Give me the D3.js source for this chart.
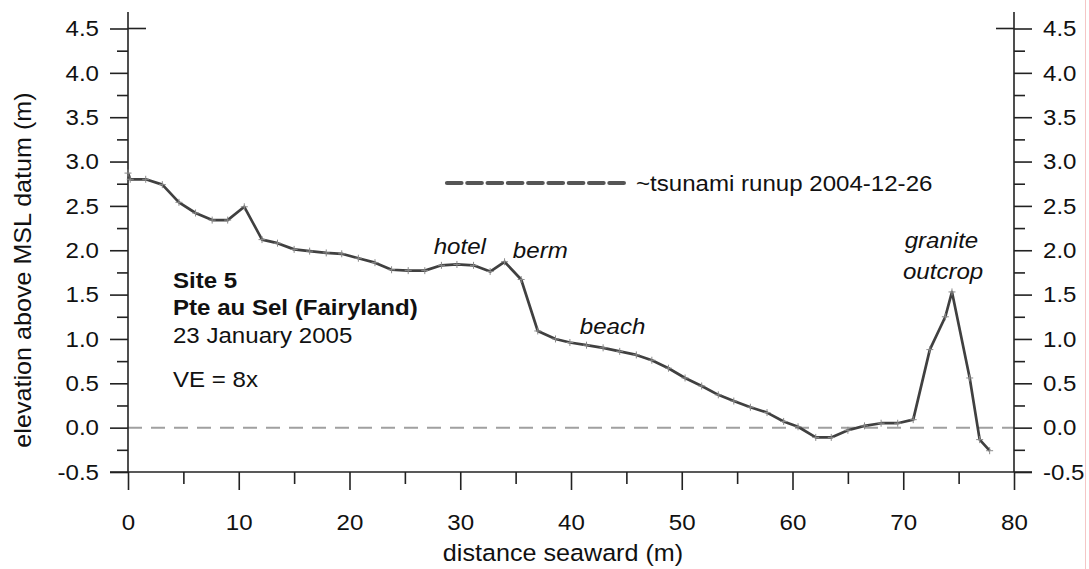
<!DOCTYPE html>
<html>
<head>
<meta charset="utf-8">
<script src="https://cdn.jsdelivr.net/npm/d3@7"></script>
<style>
  html, body { margin: 0; padding: 0; background: #fff; }
  svg { display: block; font-family: "Liberation Sans", Arial, sans-serif; }
</style>
</head>
<body>
<svg id="chart" width="1089" height="569"></svg>
<script>
// Beach profile, Site 5 — Pte au Sel (Fairyland), surveyed 23 January 2005
const distance = [0, 0.2, 1.6, 3.1, 4.6, 6.1, 7.6, 9.0, 10.5, 12.1, 13.5, 15.0, 16.4,
  17.9, 19.3, 20.8, 22.3, 23.8, 25.3, 26.8, 28.3, 29.7, 31.2, 32.7, 34.0, 35.5, 37.0,
  38.6, 39.9, 41.4, 42.9, 44.4, 45.9, 47.3, 48.8, 50.3, 51.8, 53.3, 54.7, 56.2, 57.7,
  59.2, 60.5, 62.1, 63.5, 65.0, 66.5, 68.0, 69.5, 70.9, 72.4, 73.8, 74.4, 76.0, 76.9, 77.8];
const elevation = [2.87, 2.80, 2.80, 2.74, 2.54, 2.42, 2.34, 2.34, 2.49, 2.12, 2.08, 2.01, 1.99,
  1.97, 1.96, 1.91, 1.86, 1.78, 1.77, 1.77, 1.83, 1.84, 1.83, 1.76, 1.87, 1.67, 1.09,
  1.00, 0.96, 0.93, 0.90, 0.86, 0.82, 0.76, 0.67, 0.56, 0.47, 0.37, 0.30, 0.23, 0.17,
  0.07, 0.01, -0.11, -0.11, -0.03, 0.02, 0.05, 0.05, 0.09, 0.88, 1.25, 1.53, 0.56, -0.135, -0.26];

const xTicks = [0, 10, 20, 30, 40, 50, 60, 70, 80];
const xMinorTicks = [5, 15, 25, 35, 45, 55, 65, 75];
const yTicks = [-0.5, 0.0, 0.5, 1.0, 1.5, 2.0, 2.5, 3.0, 3.5, 4.0, 4.5];
const yMinorTicks = [-0.25, 0.25, 0.75, 1.25, 1.75, 2.25, 2.75, 3.25, 3.75, 4.25];

const runupLabel = "~tsunami runup 2004-12-26";
const siteLines = [
  { text: "Site 5", bold: true },
  { text: "Pte au Sel (Fairyland)", bold: true },
  { text: "23 January 2005", bold: false }
];
const verticalExaggeration = "VE = 8x";
const features = [
  { text: "hotel", d: 27.6, v: 1.96 },
  { text: "berm", d: 34.75, v: 1.91 },
  { text: "beach", d: 40.8, v: 1.06 },
  { text: "granite", d: 73.45, v: 2.02 },
  { text: "outcrop", d: 73.6, v: 1.68 }
];

const svg = d3.select("#chart");
const x = d3.scaleLinear().domain([0, 80]).range([128, 1014]);
const y = d3.scaleLinear().domain([-0.5, 4.5]).range([472, 28.5]);
const fmt = v => d3.format(".1f")(v).replace("\u2212", "-");
const axisColor = "#222";
const fs = 22.5;      // font size
const titleFs = 23.5; // axis title font size
const sx = 1.07;      // slight horizontal widening of all lettering

// widen text horizontally while keeping its anchor point in place
function widen(sel) {
  sel.each(function () {
    const t = d3.select(this);
    const x0 = +t.attr("x") || 0;
    const tr = t.attr("transform") || "";
    t.attr("x", x0 / sx).attr("transform", `${tr} scale(${sx},1)`.trim());
  });
}

// mean sea level reference
svg.append("line")
  .attr("x1", x(0)).attr("x2", x(80))
  .attr("y1", y(0)).attr("y2", y(0))
  .attr("stroke", "#a0a0a0").attr("stroke-width", 2)
  .attr("stroke-dasharray", "14,9");

// axes
function styleAxis(g) {
  g.select(".domain").remove();
  g.selectAll("line").attr("stroke", axisColor).attr("stroke-width", 1.6);
  g.selectAll("text").attr("fill", "#111").style("font-size", fs + "px")
    .style("font-family", "'Liberation Sans', Arial, sans-serif")
    .call(widen);
}

svg.append("g").attr("transform", `translate(${x(0)},0)`)
  .call(d3.axisLeft(y).tickValues(yTicks).tickSize(18).tickPadding(11).tickFormat(fmt))
  .call(styleAxis);
svg.append("g").attr("transform", `translate(${x(0)},0)`)
  .call(d3.axisLeft(y).tickValues(yMinorTicks).tickSize(11).tickFormat(""))
  .call(styleAxis);
svg.append("g").attr("transform", `translate(${x(80)},0)`)
  .call(d3.axisRight(y).tickValues(yTicks).tickSize(18).tickPadding(11).tickFormat(fmt))
  .call(styleAxis);
svg.append("g").attr("transform", `translate(${x(80)},0)`)
  .call(d3.axisRight(y).tickValues(yMinorTicks).tickSize(11).tickFormat(""))
  .call(styleAxis);
svg.append("g").attr("transform", `translate(0,${y(-0.5)})`)
  .call(d3.axisBottom(x).tickValues(xTicks).tickSize(18).tickPadding(24).tickFormat(d3.format("d")))
  .call(styleAxis);
svg.append("g").attr("transform", `translate(0,${y(-0.5)})`)
  .call(d3.axisBottom(x).tickValues(xMinorTicks).tickSize(12).tickFormat(""))
  .call(styleAxis);

// axis lines; the bottom and top end ticks cross the frame
const frame = svg.append("g").attr("stroke", axisColor).attr("stroke-width", 1.6);
frame.append("line").attr("x1", x(0)).attr("x2", x(0)).attr("y1", 12).attr("y2", y(-0.5));
frame.append("line").attr("x1", x(80)).attr("x2", x(80)).attr("y1", 12).attr("y2", y(-0.5));
frame.append("line").attr("x1", x(0) - 18).attr("x2", x(80) + 18).attr("y1", y(-0.5)).attr("y2", y(-0.5));
frame.append("line").attr("x1", x(0)).attr("x2", x(0) + 18).attr("y1", y(4.5)).attr("y2", y(4.5));
frame.append("line").attr("x1", x(80) - 18).attr("x2", x(80)).attr("y1", y(4.5)).attr("y2", y(4.5));

// axis titles
svg.append("text")
  .attr("x", (x(0) + x(80)) / 2 - 8).attr("y", 561)
  .attr("text-anchor", "middle").style("font-size", titleFs + "px").attr("fill", "#111")
  .text("distance seaward (m)").call(widen);
svg.append("text")
  .attr("transform", `translate(31,270) rotate(-90)`)
  .attr("text-anchor", "middle").style("font-size", titleFs + "px").attr("fill", "#111")
  .text("elevation above MSL datum (m)").call(widen);

// profile line with survey point markers
const pts = distance.map((d, i) => [d, elevation[i]]);
svg.append("path")
  .datum(pts)
  .attr("fill", "none").attr("stroke", "#404040").attr("stroke-width", 2.7)
  .attr("stroke-linejoin", "round")
  .attr("d", d3.line().x(p => x(p[0])).y(p => y(p[1])));
svg.append("g").selectAll("path").data(pts).join("path")
  .attr("d", p => `M${x(p[0]) - 3.5},${y(p[1])}h7M${x(p[0])},${y(p[1]) - 3.5}v7`)
  .attr("stroke", "#8a8a8a").attr("stroke-width", 1);

// runup legend
svg.append("line")
  .attr("x1", 447).attr("x2", 625).attr("y1", 183).attr("y2", 183)
  .attr("stroke", "#555").attr("stroke-width", 4.2)
  .attr("stroke-linecap", "round").attr("stroke-dasharray", "14.5,5.8");
svg.append("text").attr("x", 636).attr("y", 191)
  .style("font-size", fs + "px").attr("fill", "#111").text(runupLabel).call(widen);

// site description
const siteY = [288, 315, 343];
svg.append("g").selectAll("text").data(siteLines).join("text")
  .attr("x", 173).attr("y", (d, i) => siteY[i])
  .style("font-size", fs + "px").style("font-weight", d => d.bold ? "bold" : "normal")
  .attr("fill", "#111").text(d => d.text).call(widen);
svg.append("text").attr("x", 173).attr("y", 387)
  .style("font-size", fs + "px").attr("fill", "#111").text(verticalExaggeration).call(widen);

// feature annotations
svg.append("g").selectAll("text").data(features).join("text")
  .attr("x", d => x(d.d)).attr("y", d => y(d.v))
  .attr("text-anchor", d => d.text === "granite" || d.text === "outcrop" ? "middle" : "start")
  .style("font-size", fs + "px").style("font-style", "italic")
  .attr("fill", "#111").text(d => d.text).call(widen);

// right border rule
svg.append("line").attr("x1", 1085.5).attr("x2", 1085.5).attr("y1", 0).attr("y2", 569)
  .attr("stroke", "#f5c6c6").attr("stroke-width", 1);
</script>
</body>
</html>
